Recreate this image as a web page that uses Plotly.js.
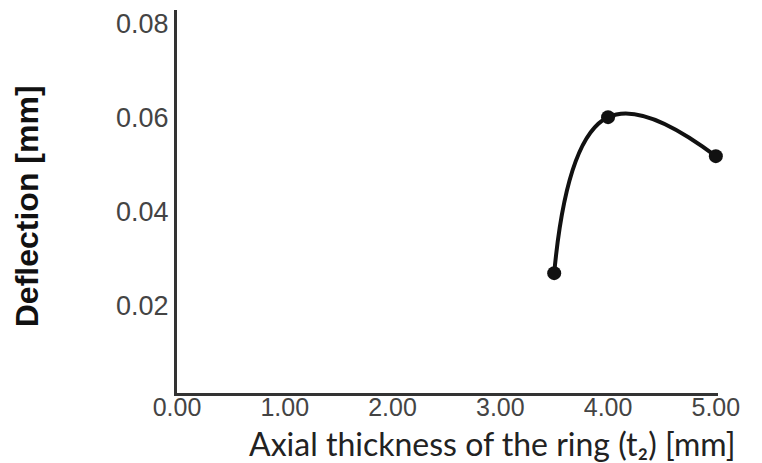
<!DOCTYPE html>
<html>
<head>
<meta charset="utf-8">
<script src="https://cdn.plot.ly/plotly-3.0.1.min.js"></script>
<style>html,body{margin:0;padding:0;background:#fff;}#chart{width:762px;height:463px;}</style>
</head>
<body>
<div id="chart"></div>
<script>
// Data
const thickness = [3.5, 4.0, 5.0];           // Axial thickness t2 [mm]
const deflection = [0.0268, 0.0600, 0.0517]; // Deflection [mm]
const xTickVals = [0, 1, 2, 3, 4, 5];
const yTickVals = [0.02, 0.04, 0.06, 0.08];
const xTitle = 'Axial thickness of the ring (t\u2082) [mm]';
const yTitle = '<b>Deflection [mm]</b>';

const trace = {
  x: thickness,
  y: deflection,
  type: 'scatter',
  mode: 'lines+markers',
  cliponaxis: false,
  line: {color: '#111', width: 4, shape: 'spline', smoothing: 1.3},
  marker: {color: '#111', size: 14},
  hoverinfo: 'x+y'
};

const layout = {
  width: 762, height: 463,
  margin: {l: 177, r: 44, t: 10, b: 70},
  paper_bgcolor: '#fff', plot_bgcolor: '#fff',
  showlegend: false,
  xaxis: {
    range: [0, 5.02],
    tickvals: xTickVals,
    tickformat: '.2f',
    showgrid: false, zeroline: false,
    showline: true, linecolor: '#333', linewidth: 3,
    ticks: '', ticklen: 0,
    ticklabelstandoff: -10,
    tickfont: {family: 'Liberation Sans, Arial, sans-serif', size: 25, color: '#444'}
  },
  yaxis: {
    range: [0.0013, 0.0828],
    tickvals: yTickVals,
    tickformat: '.2f',
    showgrid: false, zeroline: false,
    showline: true, linecolor: '#333', linewidth: 3,
    ticks: '', ticklen: 0,
    tickfont: {family: 'Liberation Sans, Arial, sans-serif', size: 27, color: '#444'}
  },
  annotations: [
    {text: xTitle, xref: 'paper', yref: 'paper', x: 0.582, y: -0.132,
     xanchor: 'center', yanchor: 'middle', showarrow: false, borderpad: 0,
     font: {family: 'Lato, Open Sans, sans-serif', size: 32, color: '#222'}},
    {text: yTitle, xref: 'paper', yref: 'paper', x: -0.277, y: 0.488,
     xanchor: 'center', yanchor: 'middle', showarrow: false, textangle: -90, borderpad: 0,
     font: {family: 'Liberation Sans, Arial, sans-serif', size: 32, color: '#111'}}
  ]
};

Plotly.newPlot('chart', [trace], layout, {displayModeBar: false, staticPlot: true});
</script>
</body>
</html>
